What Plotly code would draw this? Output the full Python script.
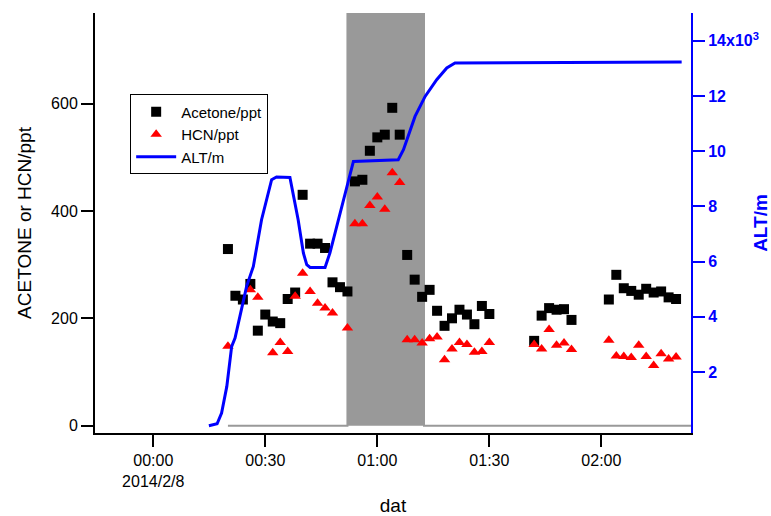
import plotly.graph_objects as go

DAY = "2014-02-08 "

# Sample times (HH:MM) for the chemistry data
chem_times = ["00:20", "00:22", "00:24", "00:26", "00:28", "00:30", "00:32", "00:34", "00:36", "00:38",
              "00:40", "00:42", "00:44", "00:46", "00:48", "00:50", "00:52", "00:54", "00:56", "00:58",
              "01:00", "01:02", "01:04", "01:06", "01:08", "01:10", "01:12", "01:14", "01:16", "01:18",
              "01:20", "01:22", "01:24", "01:26", "01:28", "01:30",
              "01:42", "01:44", "01:46", "01:48", "01:50", "01:52",
              "02:02", "02:04", "02:06", "02:08", "02:10", "02:12", "02:14", "02:16", "02:18", "02:20"]
acetone = [329, 242, 235, 264, 177, 207, 194, 191, 236, 248,
           430, 339, 339, 331, 267, 258, 250, 455, 458, 512,
           537, 542, 592, 542, 318, 272, 240, 253, 214, 186,
           200, 216, 207, 189, 223, 208,
           158, 205, 219, 216, 217, 197,
           235, 281, 256, 251, 244, 255, 248, 250, 239, 236]
hcn = [148, None, None, 253, 239, None, 136, 155, 138, 241,
       284, 250, 228, 219, 210, None, 182, 376, 376, 410,
       426, 403, 471, 453, 160, 160, 154, 162, 165, 123,
       143, 155, 151, 137, 138, 155,
       151, 143, 179, 150, 154, 142,
       159, 130, 129, 127, 150, 129, 112, 134, 124, 128]

# Altitude track
alt_times = ["00:14:54", "00:17:06", "00:18:18", "00:19:42", "00:21:00", "00:21:54", "00:23:12", "00:25:00",
             "00:26:48", "00:29:00", "00:31:42", "00:33:00", "00:36:36", "00:38:48", "00:40:12", "00:41:06",
             "00:42:00", "00:46:00", "00:47:18", "00:49:36", "00:52:12", "00:53:36", "01:05:36", "01:07:00",
             "01:10:06", "01:12:48", "01:15:54", "01:18:36", "01:20:48", "02:21:30"]
alt = [50, 120, 510, 1475, 2924, 3228, 4010, 5098,
       5822, 7514, 8963, 9061, 9047, 7514, 6307, 5884,
       5786, 5786, 6307, 7514, 8963, 9627, 9688, 10050,
       11257, 11981, 12586, 13010, 13191, 13227]

# Flag (shaded period)
flag_times = ["00:20:00", "00:52:00", "00:52:00", "01:12:30", "01:12:30", "02:24:00"]
flag_vals = [0, 0, 800, 800, 0, 0]

x_tickvals = ["00:00", "00:30", "01:00", "01:30", "02:00"]
x_ticktext = ["00:00<br>2014/2/8", "00:30", "01:00", "01:30", "02:00"]
y_tickvals = [0, 200, 400, 600]
y2_tickvals = [2000, 4000, 6000, 8000, 10000, 12000, 14000]
y2_ticktext = ["2", "4", "6", "8", "10", "12", "14x10<sup>3</sup>"]

FONT = "Liberation Sans, Arial, Helvetica, sans-serif"

fig = go.Figure()
fig.add_trace(go.Scatter(
    x=[DAY + t for t in flag_times], y=flag_vals, mode="lines", fill="tozeroy",
    line=dict(color="#999999", width=2), fillcolor="#999999", showlegend=False, hoverinfo="skip"))
fig.add_trace(go.Scatter(
    x=[DAY + t for t in chem_times], y=acetone, mode="markers", name="Acetone/ppt",
    marker=dict(symbol="square", color="black", size=10)))
fig.add_trace(go.Scatter(
    x=[DAY + t for t in chem_times], y=hcn, mode="markers", name="HCN/ppt",
    marker=dict(symbol="triangle-up", color="red", size=10)))
fig.add_trace(go.Scatter(
    x=[DAY + t for t in alt_times], y=alt, mode="lines", name="ALT/m", yaxis="y2",
    line=dict(color="#0000ff", width=3)))

fig.update_layout(
    width=771, height=516,
    margin=dict(l=95, r=80, t=13, b=83),
    paper_bgcolor="white", plot_bgcolor="white",
    font=dict(family=FONT, size=16, color="black"),
    xaxis=dict(
        type="date", automargin=False,
        range=["2014-02-07 23:44:24", "2014-02-08 02:24:00"],
        tickmode="array", tickvals=[DAY + t for t in x_tickvals], ticktext=x_ticktext,
        showline=True, linecolor="black", linewidth=2, mirror=False,
        ticks="outside", ticklen=12, tickwidth=2, tickcolor="black",
        showgrid=False, zeroline=False,
        title=dict(text="dat", standoff=16),
    ),
    yaxis=dict(
        automargin=False,
        range=[-13.6, 768.6],
        tickmode="array", tickvals=y_tickvals,
        showline=True, linecolor="black", linewidth=2,
        ticks="outside", ticklen=12, tickwidth=2, tickcolor="black",
        showgrid=False, zeroline=False,
        title=dict(text="ACETONE or HCN/ppt", standoff=14),
    ),
    yaxis2=dict(
        overlaying="y", side="right", anchor="x", automargin=False,
        range=[-214, 15004],
        tickmode="array", tickvals=y2_tickvals, ticktext=y2_ticktext,
        showline=True, linecolor="#0000ff", linewidth=2,
        ticks="outside", ticklen=12, tickwidth=2, tickcolor="#0000ff",
        tickfont=dict(color="#0000ff", weight="bold"),
        showgrid=False, zeroline=False,
        title=dict(text="ALT/m", font=dict(color="#0000ff", weight="bold"), standoff=8),
    ),
    legend=dict(
        x=0.059, y=0.806, xanchor="left", yanchor="top",
        bordercolor="black", borderwidth=1, bgcolor="white",
        font=dict(size=15), itemwidth=40, tracegroupgap=0,
    ),
)

fig.write_html("out.html")
